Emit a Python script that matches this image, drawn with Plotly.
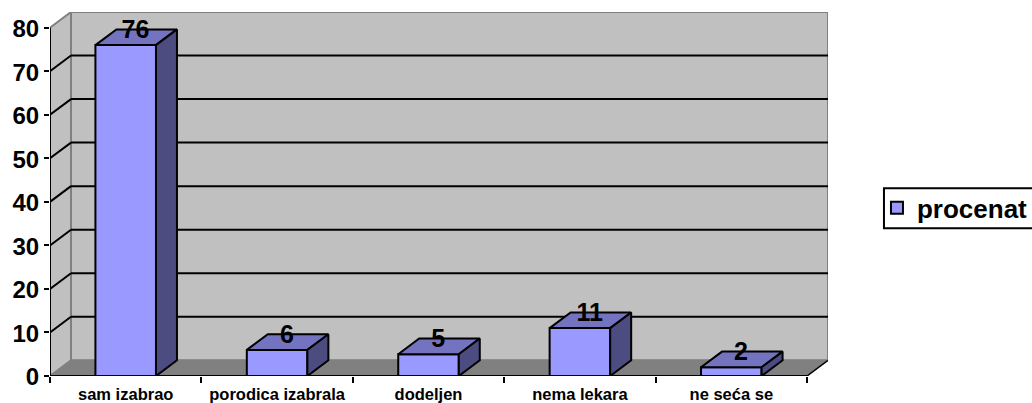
import plotly.graph_objects as go

categories = ["sam izabrao", "porodica izabrala", "dodeljen", "nema lekara", "ne seća se"]
values = [76, 6, 5, 11, 2]
series_name = "procenat"
y_ticks = [0, 10, 20, 30, 40, 50, 60, 70, 80]

W, H = 1060, 403
X0, X1 = 49.5, 828.0
Y0, Y1 = 376.0, 11.5
n = len(categories)
ux = 151.5
uy = 4.36
dx = (X1 - X0) / ux - n
dy = (Y0 - Y1) / uy - y_ticks[-1]
bw = 0.4
centers = [i + 0.5 for i in range(n)]

FRONT, TOP, SIDE = "#9999FF", "#7373BF", "#4C4C80"
WALL, FLOOR, EDGE = "#C0C0C0", "#808080", "#808080"
ymax = y_ticks[-1]


def px_x(p):
    return (p - X0) / (X1 - X0)


def px_y(p):
    return (Y0 - p) / (Y0 - Y1)


def poly(xs, ys, fill=None, lc=EDGE, lw=2, layer="below"):
    p = "M " + " L ".join(f"{x},{y}" for x, y in zip(xs, ys)) + (" Z" if fill else "")
    return dict(type="path", path=p, xref="x", yref="y", layer=layer,
                fillcolor=fill if fill else "rgba(0,0,0,0)", line=dict(color=lc, width=lw))


shapes = [
    poly([dx, n + dx, n + dx, dx], [dy, dy, ymax + dy, ymax + dy], WALL, EDGE, 2),
    poly([0, dx, dx, 0], [0, dy, ymax + dy, ymax], WALL, EDGE, 2),
    poly([0, n, n + dx, dx], [0, 0, dy, dy], FLOOR, EDGE, 1),
]
for t in y_ticks[1:-1]:
    shapes.append(poly([dx, n + dx], [t + dy, t + dy], None, "black", 2))
    shapes.append(poly([0, dx], [t, t + dy], None, "black", 2))
shapes.append(poly([n, n + dx], [0, dy], None, "black", 1.5))
shapes.append(poly([0, 0], [0, ymax], None, "black", 2, "above"))
shapes.append(poly([0, n], [0, 0], None, "black", 2, "above"))
# legend frame, running off the right edge of the window as in the reference
shapes.append(dict(type="rect", xref="paper", yref="paper", layer="above",
                   x0=px_x(884), x1=px_x(1050), y0=px_y(228), y1=px_y(188),
                   line=dict(color="black", width=2), fillcolor="rgba(0,0,0,0)"))

fig = go.Figure()
fig.add_bar(x=centers, y=values, width=bw, name=series_name,
            marker=dict(color=FRONT, line=dict(color="black", width=2)), showlegend=True)

for c, v in zip(centers, values):
    l, r = c - bw / 2, c + bw / 2
    fig.add_scatter(x=[l, r, r + dx, l + dx, l], y=[v, v, v + dy, v + dy, v], mode="lines",
                    fill="toself", fillcolor=TOP, line=dict(color="black", width=2),
                    showlegend=False, hoverinfo="skip")
    fig.add_scatter(x=[r, r + dx, r + dx, r, r], y=[0, dy, v + dy, v, 0], mode="lines",
                    fill="toself", fillcolor=SIDE, line=dict(color="black", width=2),
                    showlegend=False, hoverinfo="skip")

fig.add_scatter(x=[c + dx / 2 - 0.005 for c in centers], y=[v + dy - 0.5 for v in values],
                text=[str(v) for v in values], mode="text", textposition="middle center",
                textfont=dict(family="Liberation Sans", size=25, color="black", weight="bold"),
                showlegend=False, hoverinfo="skip")

fig.update_layout(
    width=W, height=H, autosize=False,
    margin=dict(l=X0, r=W - X1, t=Y1, b=H - Y0, pad=0),
    paper_bgcolor="white", plot_bgcolor="white", shapes=shapes,
    font=dict(family="Liberation Sans", color="black"),
    legend=dict(x=px_x(877), y=px_y(184), xref="paper", xanchor="left", yanchor="top",
                borderwidth=0, bgcolor="rgba(0,0,0,0)",
                font=dict(size=26, weight="bold", family="Liberation Sans"),
                itemclick=False, itemdoubleclick=False),
    xaxis=dict(range=[0, n + dx], tickmode="array", tickvals=centers, ticktext=categories,
               ticks="", showgrid=False, zeroline=False, showline=False, automargin=False,
               ticklabelstandoff=6,
               tickfont=dict(size=16.5, weight="bold", family="Liberation Sans"),
               minor=dict(tick0=0, dtick=1, ticks="outside", ticklen=6, tickwidth=2,
                          tickcolor="black", showgrid=False)),
    yaxis=dict(range=[0, ymax + dy], tickmode="array", tickvals=y_ticks, ticks="outside",
               ticklen=5, tickwidth=2, tickcolor="black", showgrid=False, zeroline=False,
               showline=False, automargin=False, ticklabelshift=1,
               tickfont=dict(size=24, weight="bold", family="Liberation Sans")),
)
# Reset the page margin and clip to the window so the legend box runs off the edge.
fig.write_html("out.html", config={"displayModeBar": False},
               post_script="document.body.style.margin='0';document.body.style.overflow='hidden';")
